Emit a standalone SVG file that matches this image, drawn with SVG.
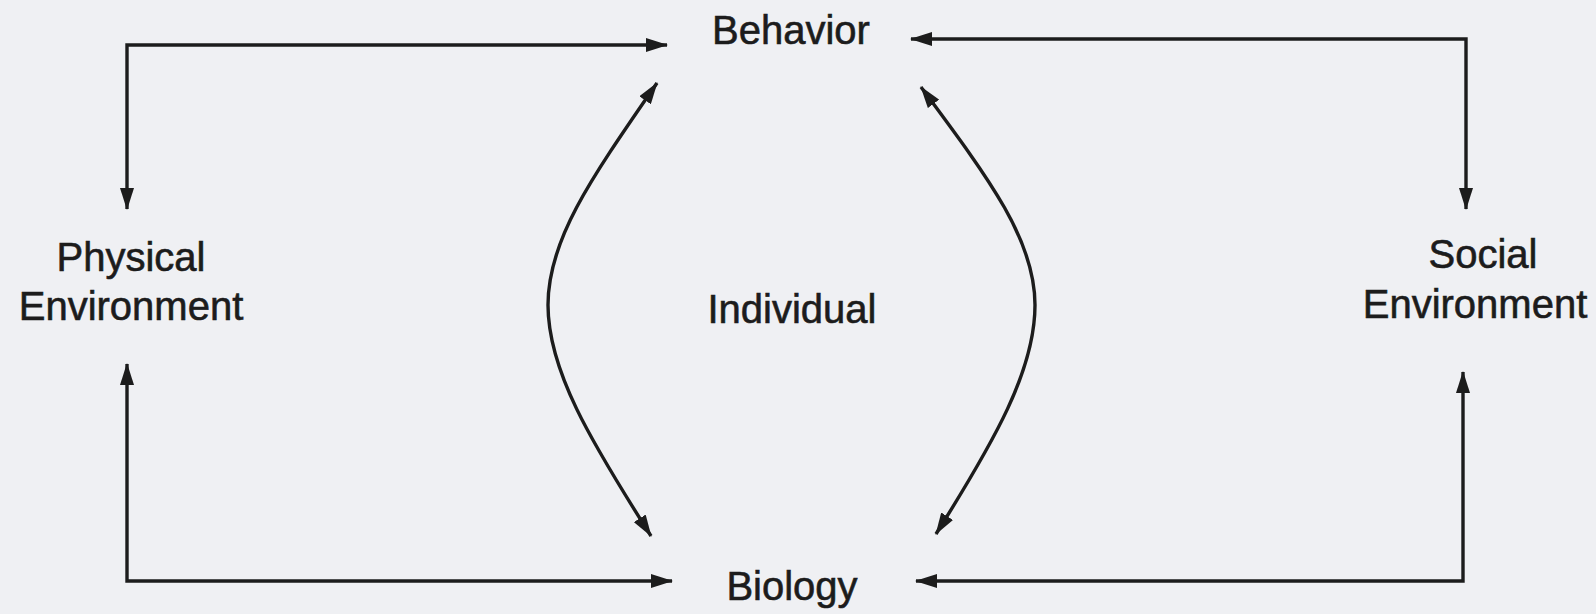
<svg xmlns="http://www.w3.org/2000/svg" width="1596" height="614" viewBox="0 0 1596 614">
<defs>
<style>
.lbl{font-family:"Liberation Sans",Arial,sans-serif;font-size:40px;fill:#1c1c1c;stroke:#1c1c1c;stroke-width:0.6;text-anchor:middle}
.con{fill:none;stroke:#1c1c1c;stroke-width:3.4}
</style>
<marker id="ah" viewBox="0 0 22 14" refX="21" refY="7" markerWidth="22" markerHeight="14" markerUnits="userSpaceOnUse" orient="auto-start-reverse">
<path d="M0,0 L22,7 L0,14 Z" fill="#1c1c1c"/>
</marker>
</defs>
<rect width="1596" height="614" fill="#eff0f3"/>
<g id="connectors">
<path class="con" d="M127,209 V45 H667" marker-start="url(#ah)" marker-end="url(#ah)"/>
<path class="con" d="M911,39 H1466 V209" marker-start="url(#ah)" marker-end="url(#ah)"/>
<path class="con" d="M127,364 V581 H672" marker-start="url(#ah)" marker-end="url(#ah)"/>
<path class="con" d="M916,581 H1463 V372" marker-start="url(#ah)" marker-end="url(#ah)"/>
<path class="con" d="M657,83 C590,180 548,240 548,305 C548,370 590,440 651,536" marker-start="url(#ah)" marker-end="url(#ah)"/>
<path class="con" d="M921,87 C990,180 1035,240 1035,305 C1035,370 995,440 936,534" marker-start="url(#ah)" marker-end="url(#ah)"/>
</g>
<g id="behavior"><text class="lbl" x="791" y="44">Behavior</text></g>
<g id="biology"><text class="lbl" x="792" y="600">Biology</text></g>
<g id="physical"><text class="lbl" x="131" y="271">Physical</text><text class="lbl" x="131" y="320">Environment</text></g>
<g id="social"><text class="lbl" x="1483" y="268">Social</text><text class="lbl" x="1475" y="318">Environment</text></g>
<g id="individual"><text class="lbl" x="792" y="323">Individual</text></g>
</svg>
